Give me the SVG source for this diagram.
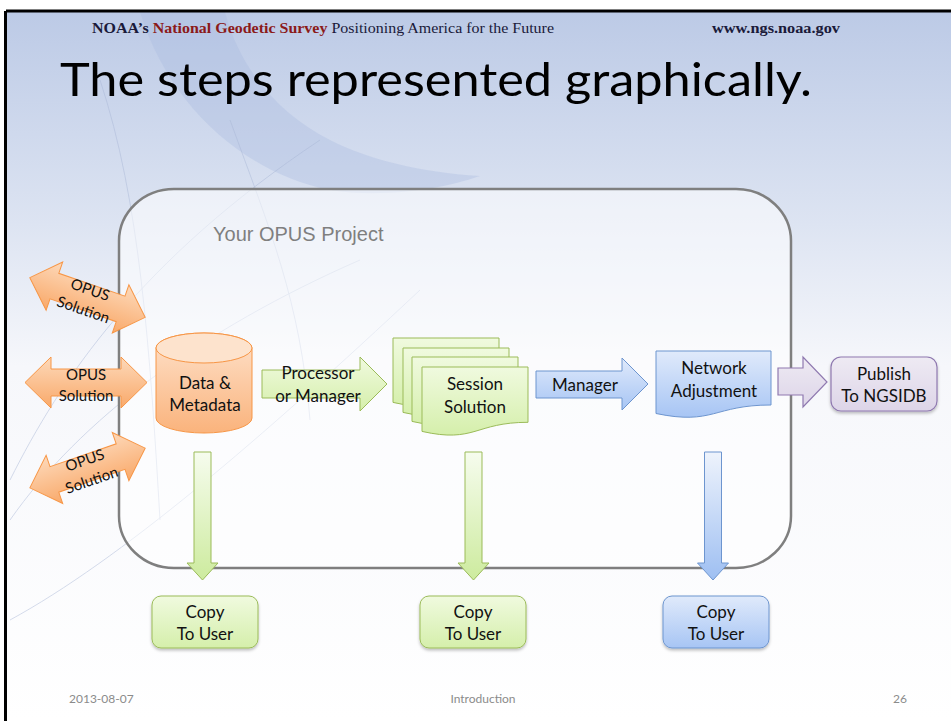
<svg xmlns="http://www.w3.org/2000/svg" width="951" height="721" viewBox="0 0 951 721">
<defs>
<linearGradient id="bg" x1="0" y1="0" x2="0" y2="1">
<stop offset="0" stop-color="#bccae6"/>
<stop offset="0.3" stop-color="#dde4f2"/>
<stop offset="0.5" stop-color="#f6f7fb"/>
<stop offset="1" stop-color="#ffffff"/>
</linearGradient>
<linearGradient id="gOr" x1="0" y1="0" x2="0" y2="1">
<stop offset="0" stop-color="#fdd9ba"/>
<stop offset="1" stop-color="#f9a96a"/>
</linearGradient>
<linearGradient id="gCyl" x1="0" y1="0" x2="0" y2="1">
<stop offset="0" stop-color="#fee2cc"/>
<stop offset="1" stop-color="#fab37c"/>
</linearGradient>
<linearGradient id="gGr" x1="0" y1="0" x2="0" y2="1">
<stop offset="0" stop-color="#f0fadf"/>
<stop offset="1" stop-color="#d5efab"/>
</linearGradient>
<linearGradient id="gGrV" x1="0" y1="0" x2="0" y2="1">
<stop offset="0" stop-color="#f6fcee"/>
<stop offset="1" stop-color="#cdeb9e"/>
</linearGradient>
<linearGradient id="gBl" x1="0" y1="0" x2="0" y2="1">
<stop offset="0" stop-color="#e0eafb"/>
<stop offset="1" stop-color="#a7c5f4"/>
</linearGradient>
<linearGradient id="gBlV" x1="0" y1="0" x2="0" y2="1">
<stop offset="0" stop-color="#eef3fc"/>
<stop offset="1" stop-color="#9ebff2"/>
</linearGradient>
<linearGradient id="gPu" x1="0" y1="0" x2="0" y2="1">
<stop offset="0" stop-color="#eeeaf3"/>
<stop offset="1" stop-color="#ddd5e8"/>
</linearGradient>
<filter id="sh" x="-10%" y="-10%" width="130%" height="140%">
<feDropShadow dx="0" dy="2" stdDeviation="1.5" flood-color="#000" flood-opacity="0.25"/>
</filter>
<path id="dbl" d="M-61,0 L-35,-25.5 L-35,-13.5 L35,-13.5 L35,-25.5 L61,0 L35,25.5 L35,13.5 L-35,13.5 L-35,25.5 Z"/>
</defs>
<style>
.lbl{font-family:Lato,"Open Sans",sans-serif;font-size:17px;fill:#111;text-anchor:middle}
.opus{font-family:Lato,"Open Sans",sans-serif;font-size:15px;fill:#111;text-anchor:middle}
.or{fill:url(#gOr);stroke:#f79646;stroke-width:1}
.gr{fill:url(#gGr);stroke:#9bbb59;stroke-width:1}
.grv{fill:url(#gGrV);stroke:#9bbb59;stroke-width:1}
.bl{fill:url(#gBl);stroke:#6d95cf;stroke-width:1}
.blv{fill:url(#gBlV);stroke:#6d95cf;stroke-width:1}
.pu{fill:url(#gPu);stroke:#8f79b0;stroke-width:1.2}
.foot{font-family:Lato,"Open Sans",sans-serif;font-size:12px;fill:#8b8b8b}
</style>
<rect x="0" y="0" width="951" height="721" fill="#ffffff"/>
<rect x="6" y="11" width="945" height="710" fill="url(#bg)"/>
<!-- faint logo swoosh -->
<path d="M140,12 C170,110 250,175 330,190 C380,198 440,190 480,176 C420,172 370,160 330,140 C280,115 240,70 225,12 Z" fill="#a9b9df" opacity="0.35"/>
<g fill="none" stroke="#a8b6d6" stroke-width="0.8" opacity="0.6">
<path d="M10,480 C60,380 140,260 320,140"/>
<path d="M10,520 C80,420 200,330 360,260"/>
<path d="M100,80 C140,200 150,350 160,520"/>
<path d="M230,120 C270,230 300,300 310,420"/>
<path d="M10,620 C120,560 260,440 420,290"/>
</g>
<line x1="6" y1="11" x2="951" y2="11" stroke="#000" stroke-width="3"/>
<line x1="5.5" y1="11" x2="5.5" y2="721" stroke="#000" stroke-width="3"/>

<text x="92" y="33" font-family="Liberation Serif,serif" font-size="14" fill="#1a1a3a" textLength="462" lengthAdjust="spacingAndGlyphs"><tspan font-weight="bold">NOAA’s </tspan><tspan font-weight="bold" fill="#8b1a1a">National Geodetic Survey</tspan><tspan> Positioning America for the Future</tspan></text>
<text x="712" y="33" font-family="Liberation Serif,serif" font-size="14" font-weight="bold" fill="#1a1a3a" textLength="128" lengthAdjust="spacingAndGlyphs">www.ngs.noaa.gov</text>
<text x="60" y="96" font-family="Lato,'Open Sans',sans-serif" font-size="47" fill="#000" textLength="752" lengthAdjust="spacingAndGlyphs">The steps represented graphically.</text>

<g id="project">
<rect x="119" y="189" width="672" height="379" rx="55" ry="52" fill="#ffffff" fill-opacity="0.55" stroke="#7f7f7f" stroke-width="2.5"/>
<text x="213" y="241" font-family="Liberation Sans,Arial,sans-serif" font-size="20" fill="#7f7f7f">Your OPUS Project</text>
</g>

<g id="opus1" transform="translate(87.5,297.5) rotate(19)">
<use href="#dbl" class="or"/>
<text class="opus" y="-3">OPUS</text>
<text class="opus" y="18">Solution</text>
</g>
<g id="opus2" transform="translate(86,382.5)">
<use href="#dbl" class="or"/>
<text class="opus" y="-3">OPUS</text>
<text class="opus" y="18">Solution</text>
</g>
<g id="opus3" transform="translate(87.5,468) rotate(-19)">
<use href="#dbl" class="or"/>
<text class="opus" y="-3">OPUS</text>
<text class="opus" y="18">Solution</text>
</g>

<g id="data">
<path d="M156,348 V418 A48,15 0 0 0 252,418 V348 A48,15 0 0 0 156,348 Z" fill="url(#gCyl)" stroke="#f79646" stroke-width="1"/>
<ellipse cx="204" cy="348" rx="48" ry="15" fill="#fde3cd" stroke="#f79646" stroke-width="1"/>
<text class="lbl" x="205" y="389">Data &amp;</text>
<text class="lbl" x="205" y="411">Metadata</text>
</g>

<g id="session">
<path class="gr" d="M393,338 H499 V393.3 C446,393.3 446,414.4 393,402.4 Z"/>
<path class="gr" d="M403,348 H509 V403.3 C456,403.3 456,424.4 403,412.4 Z"/>
<path class="gr" d="M412,357 H518 V412.3 C465,412.3 465,433.4 412,421.4 Z"/>
<path class="gr" d="M422,367 H528 V422.3 C475,422.3 475,443.4 422,431.4 Z"/>
<text class="lbl" x="475" y="390">Session</text>
<text class="lbl" x="475" y="413">Solution</text>
</g>

<g id="network">
<path class="bl" d="M656,351 H771 V405 C713.5,405 713.5,425.5 656,413.5 Z"/>
<text class="lbl" x="714" y="374">Network</text>
<text class="lbl" x="714" y="397">Adjustment</text>
</g>

<g id="publish">
<rect class="pu" x="831" y="357" width="106" height="54" rx="10" filter="url(#sh)"/>
<text class="lbl" x="884" y="380">Publish</text>
<text class="lbl" x="884" y="402">To NGSIDB</text>
</g>

<g id="copy1">
<rect class="gr" x="152" y="596" width="106" height="52" rx="9" filter="url(#sh)"/>
<text class="lbl" x="205" y="618">Copy</text>
<text class="lbl" x="205" y="640">To User</text>
</g>
<g id="copy2">
<rect class="gr" x="420" y="596" width="106" height="52" rx="9" filter="url(#sh)"/>
<text class="lbl" x="473" y="618">Copy</text>
<text class="lbl" x="473" y="640">To User</text>
</g>
<g id="copy3">
<rect class="bl" x="663" y="596" width="106" height="52" rx="9" filter="url(#sh)"/>
<text class="lbl" x="716" y="618">Copy</text>
<text class="lbl" x="716" y="640">To User</text>
</g>

<g id="connectors">
<path class="gr" d="M262,370 H360 V357 L387,384 L360,411 V398 H262 Z"/>
<text class="lbl" x="318" y="379">Processor</text>
<text class="lbl" x="318" y="402">or Manager</text>
<path class="bl" d="M536,371 H622 V358 L648,384 L622,410 V398 H536 Z"/>
<text class="lbl" x="585" y="391">Manager</text>
<path class="pu" d="M778,368 H803 V357 L827,382 L803,407 V395 H778 Z"/>
<path class="grv" d="M194,452 H211 V563 H218 L202.5,580 L187,563 H194 Z"/>
<path class="grv" d="M465,452 H482 V563 H489 L473.5,580 L458,563 H465 Z"/>
<path class="blv" d="M704.5,452 H721.5 V563 H728.5 L713,580 L697.5,563 H704.5 Z"/>
</g>

<text class="foot" x="69" y="703">2013-08-07</text>
<text class="foot" x="483" y="703" text-anchor="middle">Introduction</text>
<text class="foot" x="907" y="703" text-anchor="end">26</text>
</svg>
